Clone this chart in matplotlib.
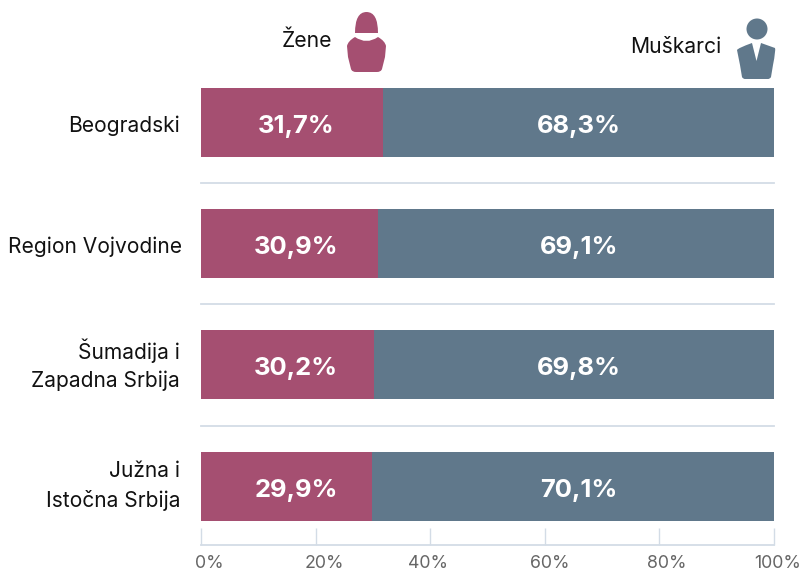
import numpy as np
import matplotlib
matplotlib.use('Agg')
from matplotlib import pyplot as plt
from matplotlib.path import Path
from matplotlib.patches import PathPatch, Circle

plt.rcParams['font.family'] = ['Inter', 'DejaVu Sans']

regions = ['Beogradski', 'Region Vojvodine', 'Šumadija i\nZapadna Srbija', 'Južna i\nIstočna Srbija']
women = [31.7, 30.9, 30.2, 29.9]
men = [68.3, 69.1, 69.8, 70.1]
ticks = [0, 20, 40, 60, 80, 100]
tick_labels = ['0%', '20%', '40%', '60%', '80%', '100%']

PINK = '#a54f71'
SLATE = '#60788b'
GRID = '#d3dce6'
W, H = 801, 572

fig = plt.figure(figsize=(W / 100, H / 100), dpi=100)
# axes box in pixels: x 201-774, y 62-545
ax = fig.add_axes([201 / W, 1 - 545 / H, 573 / W, 483 / H])
ypos = np.arange(len(regions))
ax.barh(ypos, women, height=0.57, color=PINK)
ax.barh(ypos, men, left=women, height=0.57, color=SLATE)
ax.set_xlim(0, 100)
ax.set_ylim(3.486, -0.5)

for y in ypos[:-1] + 0.5:
    ax.plot([0, 100], [y, y], color=GRID, lw=1.3, clip_on=False)

# labels sit at a fixed x in each column, not at the middle of the segment
for i in ypos:
    ax.annotate(f'{women[i]:.1f}%'.replace('.', ','), (16.6, i), xytext=(0, -4), textcoords='offset pixels',
                color='white', fontsize=18.4, fontweight='bold', ha='center', va='center')
    ax.annotate(f'{men[i]:.1f}%'.replace('.', ','), (66.0, i), xytext=(0, -4), textcoords='offset pixels',
                color='white', fontsize=18.4, fontweight='bold', ha='center', va='center')
    dx = 2 if i == 1 else 0
    dy = -3 if i < 2 else 0
    ax.annotate(regions[i], (0, i), xytext=(-21 + dx, dy), textcoords='offset pixels',
                ha='right', va='center', fontsize=15.1, color='#111111', linespacing=1.49)

for s in ['top', 'right', 'left']:
    ax.spines[s].set_visible(False)
ax.spines['bottom'].set_color(GRID)
ax.spines['bottom'].set_linewidth(1.3)
ax.set_yticks([])
ax.set_xticks(ticks)
ax.set_xticklabels([])
ax.tick_params(axis='x', direction='in', length=12.5, width=1.0, color=GRID)

# tick labels are nudged off their ticks in the original
nudge = [8, 9, -2, 5, 7, 4]
for t, lab, n in zip(ticks, tick_labels, nudge):
    ax.annotate(lab, (t, 0), xycoords=('data', 'axes fraction'), xytext=(n, -18),
                textcoords='offset pixels', ha='center', va='center', fontsize=12.8, color='#666666')

# overlay in pixel coords for headers and icons
ov = fig.add_axes([0, 0, 1, 1], facecolor='none')
ov.set_xlim(0, W)
ov.set_ylim(H, 0)
ov.axis('off')
ov.text(307, 41, 'Žene', ha='center', va='center', fontsize=15.2, color='#111111')
ov.text(675.5, 47, 'Muškarci', ha='center', va='center', fontsize=15.2, color='#111111')

M, L, C = Path.MOVETO, Path.LINETO, Path.CURVE3
# woman
head = Path([(355, 33), (355, 12), (366.5, 12), (378, 12), (378, 33), (355, 33)],
            [M, C, C, C, C, L])
body = Path([(347, 46), (348, 41), (355, 37), (366.5, 45), (378, 37), (385, 41), (386, 46),
             (385, 57), (382, 69), (381, 72), (377, 72), (356, 72), (352, 72), (351, 69), (348, 57), (347, 46)],
            [M, C, L, C, L, C, L, L, L, C, L, L, C, L, L, L])
ov.add_patch(PathPatch(head, fc=PINK, ec='none'))
ov.add_patch(PathPatch(body, fc=PINK, ec='none'))
# man
ov.add_patch(Circle((757, 29), 10.5, fc=SLATE, ec='none'))
suit = Path([(737, 50), (738, 48), (752, 43), (756.5, 61), (761, 43), (775, 48), (776, 50),
             (773, 65), (771, 77), (770, 79), (768, 79), (745, 79), (743, 79), (742, 77), (740, 65), (737, 50)],
            [M, C, L, L, L, L, C, L, L, C, L, L, C, L, L, L])
ov.add_patch(PathPatch(suit, fc=SLATE, ec='none'))

fig.savefig('out.png', dpi=100)
